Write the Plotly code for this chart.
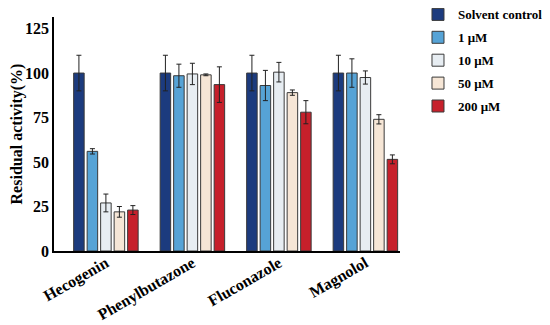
import plotly.graph_objects as go

categories = ["Hecogenin", "Phenylbutazone", "Fluconazole", "Magnolol"]
series_names = ["Solvent control", "1 μM", "10 μM", "50 μM", "200 μM"]
values = {
    "Solvent control": [100, 100, 100, 100],
    "1 μM": [56, 98.5, 93, 100],
    "10 μM": [27, 99.5, 100.5, 97.5],
    "50 μM": [22, 99, 89, 74],
    "200 μM": [23, 93.5, 78, 51.5],
}
errors = {
    "Solvent control": [10, 10, 10, 10],
    "1 μM": [1.5, 6.5, 8.5, 8],
    "10 μM": [5, 6, 5.5, 3.7],
    "50 μM": [3, 0.5, 1.5, 2.6],
    "200 μM": [2.5, 10, 6.5, 2.5],
}
colors = ["#1c3b7e", "#56a3d6", "#e7edf2", "#f6e6d6", "#c6202b"]
y_ticks = [0, 25, 50, 75, 100, 125]

FONT = "Liberation Serif, Times New Roman, serif"

fig = go.Figure()
for i, name in enumerate(series_names):
    fig.add_trace(go.Bar(
        name=name,
        x=categories,
        y=values[name],
        marker=dict(color=colors[i], line=dict(color="#3a3a3a", width=1)),
        error_y=dict(type="data", array=errors[name], color="#222222",
                     thickness=1, width=2.5),
        legendgroup=name,
    ))

# the page body has an 8px margin, so the figure is sized to fit the window
fig.update_layout(
    width=542, height=317,
    margin=dict(l=46, r=150, t=9, b=74, autoexpand=False),
    paper_bgcolor="white", plot_bgcolor="white",
    barmode="group", bargap=0.22, bargroupgap=0.22,
    font=dict(family=FONT, color="black"),
    showlegend=True,
    legend=dict(
        x=1.052, y=1.075, xanchor="left", yanchor="top",
        font=dict(family=FONT, size=13, color="black", weight="bold"),
        traceorder="grouped", tracegroupgap=3,
        itemwidth=30,
    ),
    xaxis=dict(
        showline=True, linecolor="black", linewidth=1.5,
        ticks="", tickangle=-30, range=[-0.6, 3.4], automargin=False,
        ticklabelstandoff=-5,
        tickfont=dict(family=FONT, size=16, color="black", weight="bold"),
    ),
    yaxis=dict(
        showline=True, linecolor="black", linewidth=1.5,
        ticks="", range=[0, 131.5], tickvals=y_ticks, automargin=False,
        showgrid=False, zeroline=False,
        tickfont=dict(family=FONT, size=16, color="black", weight="bold"),
        title=dict(text="Residual activity(%)", standoff=6,
                   font=dict(family=FONT, size=16, color="black", weight="bold")),
    ),
)

fig.write_html("out.html")
